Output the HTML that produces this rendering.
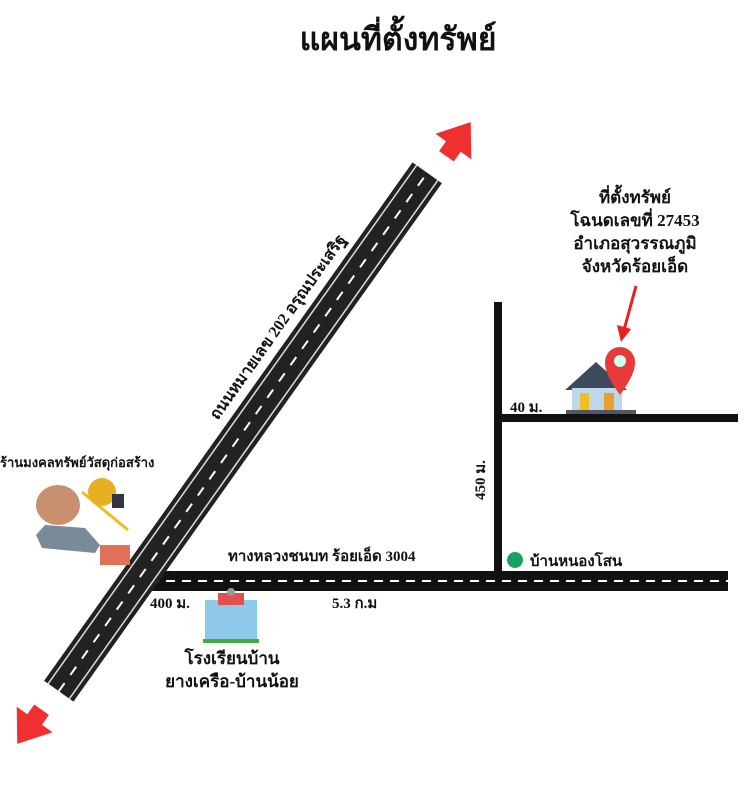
<!DOCTYPE html>
<html><head><meta charset="utf-8"><style>
body{margin:0;background:#fff;width:745px;height:800px;overflow:hidden}
svg text{font-family:"Liberation Serif","Noto Serif CJK SC","Noto Sans CJK SC",serif;font-weight:bold;fill:#111}
</style></head><body>
<svg width="745" height="800" viewBox="0 0 745 800" xmlns="http://www.w3.org/2000/svg">
<text x="398" y="50" font-size="32" text-anchor="middle">แผนที่ตั้งทรัพย์</text>
<!-- horizontal road -->
<rect x="148" y="571" width="580" height="20" fill="#111"/>
<line x1="150" y1="581" x2="728" y2="581" stroke="#fff" stroke-width="2" stroke-dasharray="9,7"/>
<!-- diagonal road -->
<g transform="translate(243,432) rotate(-54.6)">
<rect x="-318" y="-18" width="636" height="36" fill="#222"/>
<line x1="-318" y1="-13" x2="318" y2="-13" stroke="#ddd" stroke-width="1.5"/>
<line x1="-318" y1="13" x2="318" y2="13" stroke="#ddd" stroke-width="1.5"/>
<line x1="-318" y1="0" x2="318" y2="0" stroke="#fff" stroke-width="2" stroke-dasharray="10,10"/>
</g>
<!-- red arrows -->
<g transform="translate(458,140) rotate(-54.6)"><polygon points="22,0 -8,-22 -8,-9 -20,-9 -20,9 -8,9 -8,22" fill="#f03030"/></g>
<g transform="translate(30,726) rotate(125.4)"><polygon points="22,0 -8,-22 -8,-9 -20,-9 -20,9 -8,9 -8,22" fill="#f03030"/></g>
<!-- lines -->
<rect x="494" y="302" width="8" height="272" fill="#111"/>
<rect x="494" y="414" width="244" height="8" fill="#111"/>
<!-- road label -->
<text transform="translate(282,330) rotate(-54.6)" font-size="16" text-anchor="middle">ถนนหมายเลข 202 อรุณประเสริฐ</text>
<text x="0" y="467" font-size="13">ร้านมงคลทรัพย์วัสดุก่อสร้าง</text>
<!-- construction icon -->
<polygon points="45,525 85,528 100,545 95,553 42,548 36,535" fill="#7a8a99"/>
<ellipse cx="58" cy="505" rx="22" ry="20" fill="#c99070"/>
<line x1="82" y1="492" x2="128" y2="530" stroke="#e8c020" stroke-width="3"/>
<circle cx="102" cy="492" r="14" fill="#e8b020"/>
<rect x="112" y="494" width="12" height="14" fill="#334"/>
<rect x="100" y="545" width="30" height="20" fill="#e0705a"/>
<text x="228" y="561" font-size="15">ทางหลวงชนบท ร้อยเอ็ด 3004</text>
<circle cx="515" cy="560" r="8" fill="#1aa060"/>
<text x="530" y="566" font-size="15">บ้านหนองโสน</text>
<text x="150" y="608" font-size="15">400 ม.</text>
<text x="332" y="608" font-size="15">5.3 ก.ม</text>
<!-- school -->
<rect x="205" y="600" width="52" height="40" fill="#8ec8ea"/>
<rect x="218" y="593" width="26" height="12" fill="#e05050"/>
<rect x="203" y="639" width="56" height="4" fill="#4a4"/>
<circle cx="231" cy="592" r="4" fill="#999"/>
<text x="232" y="664" font-size="17" text-anchor="middle">โรงเรียนบ้าน</text>
<text x="232" y="687" font-size="17" text-anchor="middle">ยางเครือ-บ้านน้อย</text>
<text x="485" y="480" font-size="15" transform="rotate(-90 485 480)" text-anchor="middle">450 ม.</text>
<text x="510" y="412" font-size="15">40 ม.</text>
<!-- house -->
<polygon points="565,390 596,362 627,390" fill="#3d4a5c"/>
<rect x="572" y="388" width="50" height="24" fill="#bcd8ea"/>
<rect x="580" y="393" width="9" height="17" fill="#f0c020"/>
<rect x="604" y="393" width="10" height="17" fill="#e8a030"/>
<rect x="566" y="410" width="70" height="4" fill="#556"/>
<path d="M620 395 C608 378 605 370 605 362 a15 15 0 0 1 30 0 C635 370 632 378 620 395Z" fill="#e83a3a"/>
<circle cx="620" cy="361" r="6" fill="#cfe"/>
<line x1="636" y1="286" x2="624" y2="330" stroke="#e82020" stroke-width="3"/>
<polygon points="617,325 631,329 621,342" fill="#e82020"/>
<text x="635" y="203" font-size="17" text-anchor="middle">ที่ตั้งทรัพย์</text>
<text x="635" y="226" font-size="17" text-anchor="middle">โฉนดเลขที่ 27453</text>
<text x="635" y="249" font-size="17" text-anchor="middle">อำเภอสุวรรณภูมิ</text>
<text x="635" y="272" font-size="17" text-anchor="middle">จังหวัดร้อยเอ็ด</text>
</svg>
</body></html>
